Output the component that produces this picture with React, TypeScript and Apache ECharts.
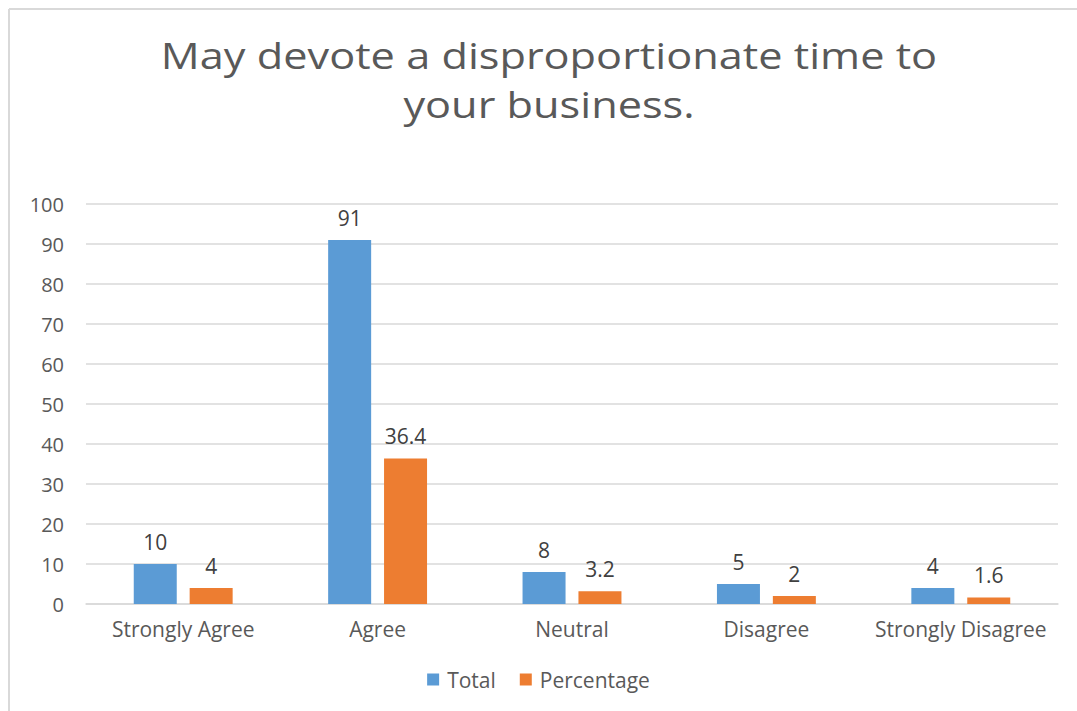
import React, { useEffect, useRef } from "react";
import * as echarts from "echarts";

const categories = ["Strongly Agree", "Agree", "Neutral", "Disagree", "Strongly Disagree"];
const totalValues = [10, 91, 8, 5, 4];
const percentageValues = [4, 36.4, 3.2, 2, 1.6];
const titleLines = ["May devote a disproportionate time to", "your business."];

const FONT = "'Open Sans', sans-serif";

export default function App() {
  const ref = useRef<HTMLDivElement>(null);
  useEffect(() => {
    if (!ref.current) return;
    const chart = echarts.init(ref.current, null, { renderer: "svg" });
    const titleText = (text: string, y: number) => ({
      type: "text",
      x: 549,
      y,
      scaleX: 1.17,
      style: {
        text,
        fontFamily: FONT,
        fontSize: 37,
        fill: "#595959",
        textAlign: "center",
        textVerticalAlign: "middle",
      },
    });
    chart.setOption({
      animation: false,
      backgroundColor: "#ffffff",
      graphic: [
        { type: "line", shape: { x1: 9, y1: 9, x2: 1077, y2: 9 }, style: { stroke: "#d9d9d9", lineWidth: 2 } },
        { type: "line", shape: { x1: 9, y1: 9, x2: 9, y2: 711 }, style: { stroke: "#d9d9d9", lineWidth: 2 } },
        titleText(titleLines[0], 55),
        titleText(titleLines[1], 104),
      ],
      legend: {
        bottom: 16,
        left: "center",
        itemWidth: 12,
        itemHeight: 12,
        itemGap: 24,
        icon: "rect",
        textStyle: { fontFamily: FONT, fontSize: 21, color: "#595959", padding: [0, 0, 0, 3] },
        data: ["Total", "Percentage"],
      },
      grid: { left: 86, right: 19, top: 204, bottom: 107 },
      xAxis: {
        type: "category",
        data: categories,
        axisTick: { show: false },
        axisLine: { lineStyle: { color: "#d9d9d9", width: 1.5 } },
        axisLabel: { fontFamily: FONT, fontSize: 21, color: "#595959", margin: 14, interval: 0 },
      },
      yAxis: {
        type: "value",
        min: 0,
        max: 100,
        interval: 10,
        axisLine: { show: false },
        axisTick: { show: false },
        splitLine: { lineStyle: { color: "#d9d9d9", width: 1.5 } },
        axisLabel: { fontFamily: FONT, fontSize: 20, color: "#595959", margin: 22 },
      },
      series: [
        {
          name: "Total",
          type: "bar",
          data: totalValues,
          barWidth: 43,
          barGap: "30%",
          itemStyle: { color: "#5b9bd5" },
          label: { show: true, position: "top", distance: 12, fontFamily: FONT, fontSize: 21, color: "#404040" },
        },
        {
          name: "Percentage",
          type: "bar",
          data: percentageValues,
          barWidth: 43,
          itemStyle: { color: "#ed7d31" },
          label: { show: true, position: "top", distance: 12, fontFamily: FONT, fontSize: 21, color: "#404040" },
        },
      ],
    });
    return () => chart.dispose();
  }, []);
  return (
    <div
      ref={ref}
      style={{ position: "fixed", left: 0, top: 0, width: 1077, height: 711 }}
    />
  );
}
